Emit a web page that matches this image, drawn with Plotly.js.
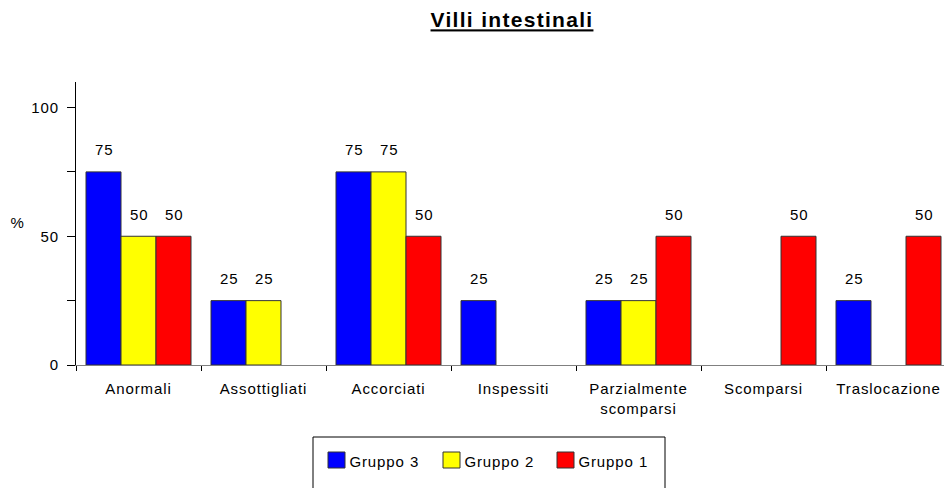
<!DOCTYPE html>
<html>
<head>
<meta charset="utf-8">
<script src="https://cdn.plot.ly/plotly-3.0.1.min.js"></script>
<style>
html,body{margin:0;padding:0;background:#fff;}
#chart{width:944px;height:488px;}
#chart svg text{letter-spacing:0.9px;}
#chart svg .gtitle{letter-spacing:1.3px;}
</style>
</head>
<body>
<div id="chart"></div>
<script>
const categories = ["Anormali","Assottigliati","Accorciati","Inspessiti","Parzialmente<br>scomparsi","Scomparsi","Traslocazione"];
const seriesNames = ["Gruppo 3","Gruppo 2","Gruppo 1"];
const gruppo3 = [75, 25, 75, 25, 25, null, 25];
const gruppo2 = [50, 25, 75, null, 25, null, null];
const gruppo1 = [50, null, 50, null, 50, 50, 50];
const colors = ["#0000FF","#FFFF00","#FF0000"];
const yTickVals = [0, 25, 50, 75, 100];
const yTickText = ["0", "", "50", "", "100"];

const FONT = "Liberation Sans, Arial, sans-serif";
const W = 944, H = 488;
const M = {l: 76, r: 0, t: 82, b: 123};
const PW = W - M.l - M.r, PH = H - M.t - M.b;
const px = x => (x - M.l) / PW;
const py = y => (H - M.b - y) / PH;

const allSeries = [gruppo3, gruppo2, gruppo1];
const traces = allSeries.map((vals, i) => ({
  type: "bar",
  name: seriesNames[i],
  x: categories,
  y: vals,
  marker: {color: colors[i], line: {color: "#333333", width: 1}},
  showlegend: false,
  hoverinfo: "none"
}));

const annotations = [];
const shapes = [];
const offsets = [-35, 0, 35];
allSeries.forEach((vals, i) => {
  vals.forEach((v, j) => {
    if (v === null) return;
    annotations.push({
      x: categories[j], y: v, xref: "x", yref: "y",
      text: String(v), showarrow: false, yanchor: "middle",
      xshift: offsets[i] + 1, yshift: 22,
      font: {family: FONT, size: 15, color: "#000"}
    });
  });
});
annotations.push({
  xref: "paper", yref: "paper", x: px(17), y: py(222),
  text: "%", showarrow: false, xanchor: "center", yanchor: "middle",
  font: {family: FONT, size: 15, color: "#000"}
});

// manual legend
shapes.push({
  type: "rect", xref: "paper", yref: "paper",
  x0: px(313), x1: px(665), y0: py(492), y1: py(437),
  line: {color: "#000", width: 1}, fillcolor: "rgba(0,0,0,0)"
});
const swatchX = [328, 443, 557];
seriesNames.forEach((name, i) => {
  shapes.push({
    type: "rect", xref: "paper", yref: "paper",
    x0: px(swatchX[i]), x1: px(swatchX[i] + 17), y0: py(468), y1: py(452),
    line: {color: "#333333", width: 1}, fillcolor: colors[i]
  });
  annotations.push({
    xref: "paper", yref: "paper", x: px(swatchX[i] + 23), y: py(461),
    text: name, showarrow: false, xanchor: "left", yanchor: "middle",
    font: {family: FONT, size: 15, color: "#000"}
  });
});

const layout = {
  width: W, height: H,
  margin: M,
  paper_bgcolor: "#fff", plot_bgcolor: "#fff",
  font: {family: FONT, size: 15, color: "#000"},
  title: {text: "<b><u>Villi intestinali</u></b>", xref: "container", x: 512 / W, xanchor: "center",
          yref: "container", y: 1 - 20 / H, yanchor: "middle",
          font: {family: FONT, size: 21, color: "#000"}},
  barmode: "group",
  bargap: 0.16,
  bargroupgap: 0,
  xaxis: {
    range: [-0.5, -0.5 + PW / 125],
    showline: true, linecolor: "#808080", linewidth: 1,
    ticks: "outside", tickson: "boundaries", ticklen: 5, tickcolor: "#000",
    showgrid: false, zeroline: false,
    ticklabelstandoff: 10,
    tickfont: {family: FONT, size: 15, color: "#000"}
  },
  yaxis: {
    range: [0, PH / 2.575],
    showline: true, linecolor: "#000", linewidth: 1,
    ticks: "outside", ticklen: 8, tickcolor: "#000",
    tickvals: yTickVals, ticktext: yTickText,
    showgrid: false, zeroline: false,
    ticklabelstandoff: 5,
    tickfont: {family: FONT, size: 15, color: "#000"}
  },
  showlegend: false,
  shapes: shapes,
  annotations: annotations
};

Plotly.newPlot("chart", traces, layout, {displayModeBar: false, staticPlot: true});
</script>
</body>
</html>
